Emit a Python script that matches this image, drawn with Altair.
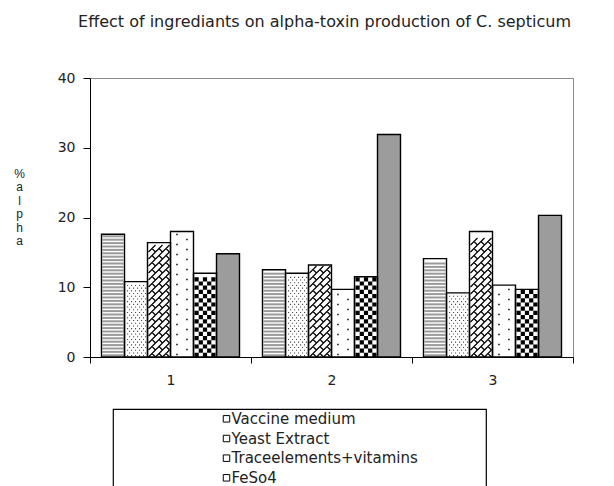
import altair as alt
import pandas as pd

# ---------------- data ----------------
chart_title = "Effect of ingrediants on alpha-toxin production of C. septicum"
categories = ["1", "2", "3"]
series = ["Vaccine medium", "Yeast Extract", "Traceelements+vitamins", "FeSo4",
          "Series5", "Series6"]
vaccine_medium = [17.6, 12.5, 14.1]
yeast_extract = [10.8, 12.0, 9.2]
trace_vitamins = [16.4, 13.2, 18.0]
feso4 = [18.0, 9.7, 10.3]
series5 = [12.0, 11.5, 9.7]
series6 = [14.8, 31.9, 20.3]
y_ticks = [0, 10, 20, 30, 40]
y_title = ["%", "a", "l", "p", "h", "a"]

values = [vaccine_medium, yeast_extract, trace_vitamins, feso4, series5, series6]

# ---------------- style ----------------
FONT = "Liberation Sans"
WIDE = "DejaVu Sans"
W, H = 483, 279
PPU = H / 40.0              # pixels per data unit on the y scale
bar_fill = ["white", "white", "white", "white", "white", "#9c9c9c"]
legend_fill = ["#cfcfcf", "#ececec", "#d8d8d8", "#f6f6f6", "#606060", "#9c9c9c"]

# pattern tiles (one row of each pattern, drawn as a custom symbol)
def sq(x, y, s):
    return f"M{x:.3f},{y:.3f}h{s:.3f}v{s:.3f}h{-s:.3f}z"

stripe = "M-1,0L1,0"
yeastA = " ".join(sq(x, -0.05, 0.1) for x in [-0.85, -0.47, -0.09, 0.29, 0.67])
yeastB = " ".join(sq(x, -0.05, 0.1) for x in [-0.66, -0.28, 0.10, 0.48, 0.86])
trace_parts = []
for i in range(3):
    x0 = -1 + i * 0.6667
    trace_parts.append(f"M{x0:.3f},0.333L{x0 + 0.6667:.3f},-0.333")
    trace_parts.append(f"M{x0 + 0.333:.3f},0L{x0 + 0.6667:.3f},0.333")
trace_path = " ".join(trace_parts)
feA = sq(-0.55, -0.07, 0.14)
feB = sq(0.40, -0.07, 0.14)
chkA = " ".join(sq(x, -0.2, 0.4) for x in [-1.0, -0.2, 0.6])
chkB = " ".join(sq(x, -0.2, 0.4) for x in [-0.6, 0.2])

pat_keys = ["stripe", "yeastA", "yeastB", "trace", "feA", "feB", "chkA", "chkB"]
pat_paths = [stripe, yeastA, yeastB, trace_path, feA, feB, chkA, chkB]
shape_scale = alt.Scale(domain=pat_keys, range=pat_paths)

# ---------------- tables ----------------
bars = pd.DataFrame([
    {"cat": c, "series": s, "v": v}
    for s, vals in zip(series, values) for c, v in zip(categories, vals)
])

def pattern_rows(sidx, keys, dy_px):
    out = []
    dy = dy_px / PPU
    for c, v in zip(categories, values[sidx]):
        n = int(v / dy)
        for k in range(n):
            out.append({"cat": c, "series": series[sidx], "v": (k + 0.5) * dy,
                        "pat": keys[k % len(keys)]})
    return pd.DataFrame(out)

stripes_df = pattern_rows(0, ["stripe"], 3.4)
yeast_df = pattern_rows(1, ["yeastA", "yeastB"], 2.7)
trace_df = pattern_rows(2, ["trace"], 7.0)
fe_df = pattern_rows(3, ["feA", "feB"], 5.0)
chk_df = pattern_rows(4, ["chkA", "chkB"], 4.2)

# ---------------- encodings ----------------
x_enc = alt.X("cat:N", sort=categories,
              scale=alt.Scale(paddingInner=0, paddingOuter=0),
              axis=alt.Axis(title=None, labelAngle=0, tickBand="extent", tickSize=6,
                            labelPadding=10, labelFontSize=14, labelFont=WIDE,
                            labelColor="#222", domainColor="black", tickColor="black",
                            grid=False))
xo_enc = alt.XOffset("series:N", sort=series,
                     scale=alt.Scale(domain=series, paddingInner=0, paddingOuter=0.5))
y_axis = alt.Axis(values=y_ticks, grid=False, domainColor="black", tickColor="black",
                  tickSize=7, labelFontSize=14, labelFont=WIDE, labelColor="#222",
                  labelPadding=8, title=y_title, titleAngle=0, titleFontSize=12,
                  titleFont=FONT, titleFontWeight="normal", titleColor="#222",
                  titleLineHeight=13.5, titleAlign="center", titleBaseline="top",
                  titleX=-71, titleY=90)
y_enc = alt.Y("v:Q", scale=alt.Scale(domain=[0, 40], nice=False), axis=y_axis)

base_bars = alt.Chart(bars).mark_bar(strokeWidth=0).encode(
    x=x_enc, xOffset=xo_enc, y=y_enc,
    fill=alt.Fill("series:N", scale=alt.Scale(domain=series, range=bar_fill), legend=None),
)

def pat_layer(df, **mark):
    return alt.Chart(df).mark_point(opacity=1, size=441, **mark).encode(
        x=x_enc, xOffset=xo_enc, y=y_enc,
        shape=alt.Shape("pat:N", scale=shape_scale, legend=None),
    )

l_stripe = pat_layer(stripes_df, filled=False, stroke="#9a9a9a", strokeWidth=2)
l_yeast = pat_layer(yeast_df, filled=True, fill="#404040", strokeWidth=0)
l_trace = pat_layer(trace_df, filled=False, stroke="black", strokeWidth=1.2)
l_fe = pat_layer(fe_df, filled=True, fill="black", strokeWidth=0)
l_chk = pat_layer(chk_df, filled=True, fill="black", strokeWidth=0)

outline = alt.Chart(bars).mark_bar(fillOpacity=0, stroke="black", strokeWidth=1.4).encode(
    x=x_enc, xOffset=xo_enc, y=y_enc,
)

main = alt.layer(base_bars, l_stripe, l_yeast, l_trace, l_fe, l_chk, outline).properties(
    width=W, height=H,
    title=alt.TitleParams(chart_title, fontSize=16, font=WIDE, fontWeight="normal",
                          color="#222", anchor="middle", frame="group", offset=41, dx=-7),
    view=alt.ViewBackground(stroke="#8a8a8a", strokeWidth=1),
)

# ---------------- legend panel ----------------
leg = pd.DataFrame({"series": series})
leg_y = alt.Y("series:N", sort=series,
              scale=alt.Scale(domain=series, paddingInner=0, paddingOuter=0), axis=None)
leg_sym = alt.Chart(leg).mark_point(shape="square", filled=True, size=42, stroke="black",
                                    strokeWidth=1, opacity=1).encode(
    x=alt.value(113.5), y=leg_y,
    fill=alt.Fill("series:N", scale=alt.Scale(domain=series, range=legend_fill), legend=None),
)
leg_txt = alt.Chart(leg).mark_text(align="left", baseline="middle", fontSize=15, font=WIDE,
                                   color="#222").encode(
    x=alt.value(118.5), y=leg_y, text="series:N",
)
legend_panel = alt.layer(leg_sym, leg_txt).properties(
    width=373, height=118, view=alt.ViewBackground(stroke="black", strokeWidth=1.2),
)
spacer = alt.Chart(pd.DataFrame({"a": [0]})).mark_point(opacity=0).properties(
    width=22, height=10, view=alt.ViewBackground(strokeWidth=0, stroke="transparent"),
)

chart = alt.vconcat(
    main,
    alt.hconcat(spacer, legend_panel, spacing=0),
    spacing=20,
).configure(background="white")

chart.save("out.html", embed_options={"renderer": "svg", "actions": False})
